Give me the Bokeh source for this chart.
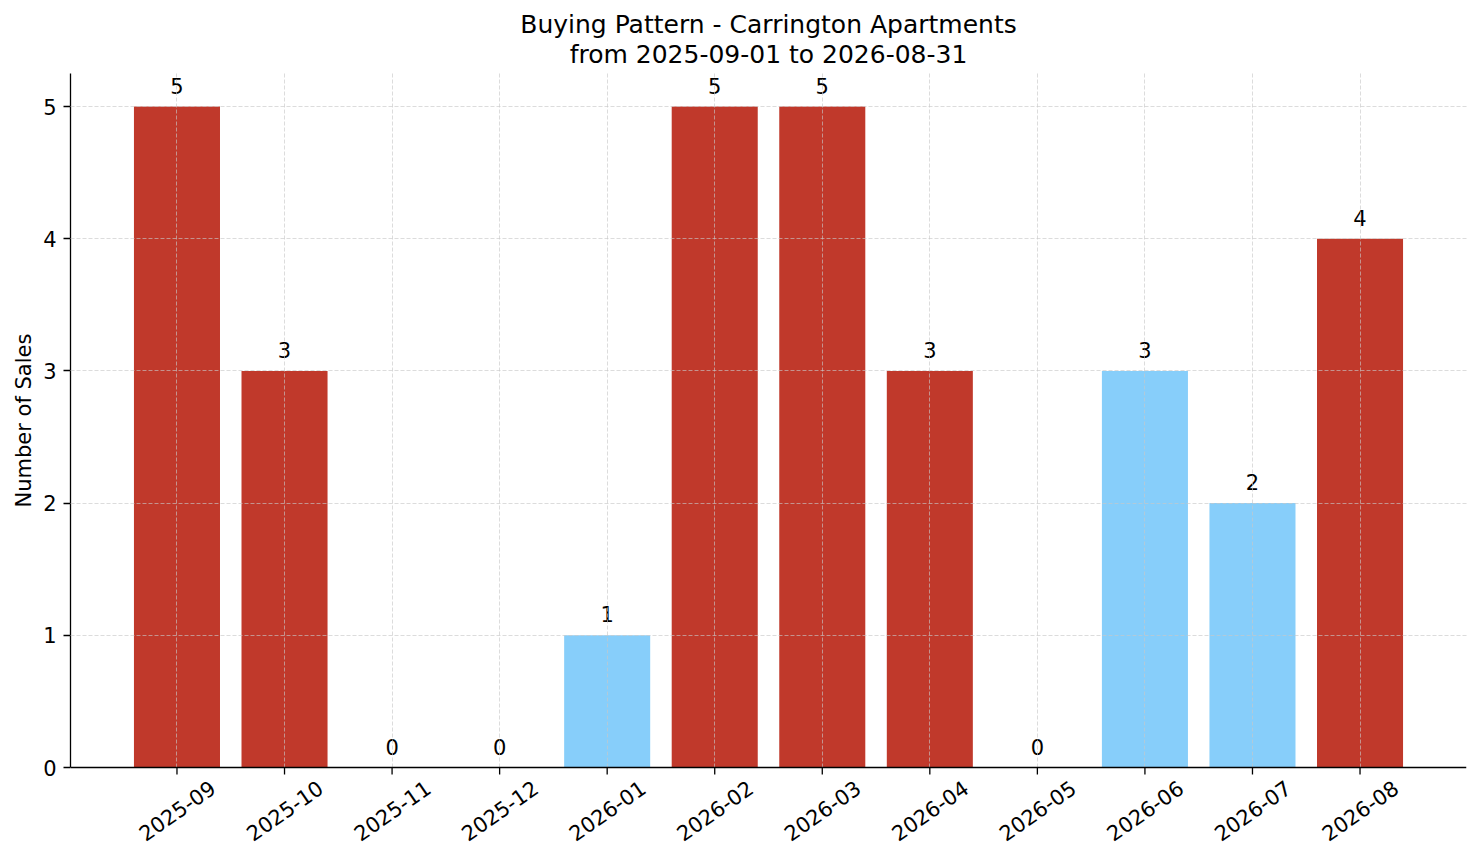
import math
from bokeh.plotting import figure
from bokeh.models import ColumnDataSource, Range1d, FixedTicker, Title, Span
from bokeh.core.properties import value
from bokeh.embed import file_html
from bokeh.resources import INLINE

months = ["2025-09", "2025-10", "2025-11", "2025-12", "2026-01", "2026-02",
          "2026-03", "2026-04", "2026-05", "2026-06", "2026-07", "2026-08"]
sales = [5, 3, 0, 0, 1, 5, 5, 3, 0, 3, 2, 4]
highlight = [False, False, False, False, True, False, False, False, False, True, True, False]
y_ticks = [0, 1, 2, 3, 4, 5]
title_line1 = "Buying Pattern - Carrington Apartments"
title_line2 = "from 2025-09-01 to 2026-08-31"
y_label = "Number of Sales"

RED = "#c0392b"
BLUE = "#87cefa"
FONT = "DejaVu Sans"
FS = "21px"

# layout: the frame is extended below y=0 so that the rotated month labels
# (centred under their ticks, as in the reference) are drawn inside it.
Y_TOP = 5.25
PLOT_PX = 694                      # pixel height of the 0..Y_TOP part
PX_PER_UNIT = PLOT_PX / Y_TOP
BELOW_PX = 86                      # room under the baseline for the labels
Y_BOTTOM = -BELOW_PX / PX_PER_UNIT
TICK_LEN = 7 / PX_PER_UNIT

xs = list(range(len(months)))
colors = [BLUE if h else RED for h in highlight]
src = ColumnDataSource(dict(x=xs, top=sales, color=colors,
                            label=[str(v) for v in sales], month=months,
                            base=[0] * len(xs), tick_end=[-TICK_LEN] * len(xs)))

p = figure(width=1473, height=855, output_backend="svg", toolbar_location=None,
           x_range=Range1d(-0.99, 11.99), y_range=Range1d(Y_BOTTOM, Y_TOP),
           min_border_left=70, min_border_right=7, min_border_top=73,
           min_border_bottom=2)

p.title.text = title_line1
p.title.align = "center"
p.title.text_font = FONT
p.title.text_font_size = "25px"
p.title.text_font_style = "normal"
p.title.text_color = "#000000"
p.title.standoff = -12
t2 = Title(text=title_line2, align="center", text_font=FONT, text_font_size="25px",
           text_font_style="normal", text_color="#000000", standoff=10)
p.add_layout(t2, "above")

p.outline_line_color = None
p.background_fill_color = "white"
p.border_fill_color = "white"

p.vbar(x="x", top="top", width=0.8, bottom=0, color="color", line_color=None, source=src)
p.text(x="x", y="top", text="label", source=src, text_align="center",
       text_baseline="alphabetic", y_offset=-21, text_font=value(FONT),
       text_font_size=FS, text_color="#000000")

# grids (drawn over the bars, limited to the 0..Y_TOP area)
for g in (p.xgrid[0], p.ygrid[0]):
    g.grid_line_color = "#c8c8c8"
    g.grid_line_alpha = 0.8
    g.grid_line_dash = "4 2"
    g.grid_line_width = 0.8
    g.level = "overlay"
p.xgrid.ticker = FixedTicker(ticks=xs)
p.xgrid.cross_bounds = (0, Y_TOP)
p.ygrid.ticker = FixedTicker(ticks=y_ticks[1:])

# x axis: baseline, ticks and centred rotated labels
p.xaxis.visible = False
p.add_layout(Span(location=0, dimension="width", line_color="#000000",
                  line_width=1.3, level="overlay"))
p.segment(x0="x", y0="base", x1="x", y1="tick_end", source=src,
          line_color="#000000", line_width=1.3)
p.text(x="x", y="base", text="month", source=src, y_offset=43, angle=math.radians(35),
       text_align="center", text_baseline="middle", text_font=value(FONT),
       text_font_size=FS, text_color="#000000")

# y axis
ya = p.yaxis[0]
ya.bounds = (0, Y_TOP)
ya.ticker = FixedTicker(ticks=y_ticks)
ya.axis_line_color = "#000000"
ya.axis_line_width = 1.3
ya.major_tick_line_color = "#000000"
ya.major_tick_line_width = 1.3
ya.major_tick_out = 7
ya.major_tick_in = 0
ya.minor_tick_line_color = None
ya.major_label_text_font = FONT
ya.major_label_text_font_size = FS
ya.major_label_text_color = "#000000"
ya.major_label_standoff = 7

# y axis title, placed along the 0..Y_TOP part of the frame
ytitle = Title(text=y_label, align="left", offset=346,
               text_font=FONT, text_font_size=FS, text_font_style="normal",
               text_color="#000000", standoff=9)
p.add_layout(ytitle, "left")

open("out.html", "w").write(file_html(p, INLINE))
